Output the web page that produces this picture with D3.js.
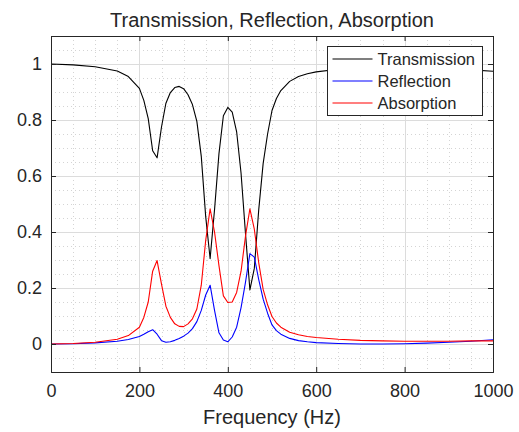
<!DOCTYPE html>
<html>
<head>
<meta charset="utf-8">
<script src="https://cdn.jsdelivr.net/npm/d3@7"></script>
<style>
  body { margin: 0; background: #fff; }
  text { font-family: "Liberation Sans", Arial, sans-serif; fill: #262626; }
</style>
</head>
<body>
<div id="chart"></div>
<script>
// frequency samples (Hz) and the three curves
var freq = [0, 50, 100, 150, 175, 200, 210, 220, 230, 240, 250, 260, 270, 280, 290, 300,
    310, 320, 330, 340, 350, 360, 370, 380, 390, 400, 410, 420, 430, 440, 450, 460,
    470, 480, 490, 500, 510, 520, 540, 560, 580, 600, 650, 700, 750, 800, 850, 900, 950, 1000];

var transmission = [1.0, 0.997, 0.99, 0.975, 0.955, 0.913, 0.87, 0.805, 0.69, 0.665, 0.775, 0.86,
    0.898, 0.916, 0.92, 0.912, 0.89, 0.855, 0.795, 0.67, 0.455, 0.305, 0.48, 0.68, 0.815, 0.845,
    0.828, 0.758, 0.61, 0.395, 0.193, 0.27, 0.48, 0.645, 0.75, 0.834, 0.877, 0.905, 0.938, 0.955,
    0.965, 0.972, 0.981, 0.987, 0.989, 0.989, 0.987, 0.984, 0.979, 0.974];

var reflection = [0, 0.001, 0.004, 0.01, 0.016, 0.027, 0.035, 0.044, 0.051, 0.035, 0.012, 0.006,
    0.008, 0.013, 0.02, 0.028, 0.039, 0.055, 0.08, 0.12, 0.175, 0.21, 0.12, 0.04, 0.014, 0.008,
    0.025, 0.06, 0.13, 0.22, 0.323, 0.31, 0.23, 0.16, 0.11, 0.068, 0.048, 0.035, 0.02, 0.012,
    0.008, 0.005, 0.002, 0.0, 0.0, 0.001, 0.003, 0.006, 0.01, 0.015];

var absorption = [0, 0.002, 0.006, 0.017, 0.03, 0.06, 0.095, 0.15, 0.26, 0.298, 0.214, 0.135,
    0.095, 0.072, 0.063, 0.062, 0.072, 0.09, 0.125, 0.21, 0.37, 0.483, 0.4, 0.28, 0.172, 0.148,
    0.15, 0.184, 0.26, 0.385, 0.483, 0.41, 0.29, 0.195, 0.14, 0.098, 0.075, 0.06, 0.042, 0.033,
    0.027, 0.023, 0.017, 0.013, 0.011, 0.01, 0.01, 0.01, 0.011, 0.011];

var xTicks = [0, 200, 400, 600, 800, 1000];
var yTicks = [0, 0.2, 0.4, 0.6, 0.8, 1];
var seriesNames = ["Transmission", "Reflection", "Absorption"];
var seriesColors = ["#000000", "#0000ff", "#ff0000"];

var W = 519, H = 432,
    margin = { top: 36, right: 26, bottom: 60, left: 51 },
    width = W - margin.left - margin.right,
    height = H - margin.top - margin.bottom;

var svg = d3.select("#chart").append("svg")
    .attr("width", W)
    .attr("height", H);

var g = svg.append("g").attr("transform", "translate(" + margin.left + "," + margin.top + ")");

var x = d3.scaleLinear().domain([0, 1000]).range([0, width]);
var y = d3.scaleLinear().domain([-0.1, 1.1]).range([height, 0]);

// minor grid (dotted)
var xMinor = d3.range(0, 1001, 50).filter(function (d) { return d % 200 !== 0; });
var yMinor = d3.range(-0.05, 1.1, 0.05).filter(function (d) {
    return Math.abs(Math.round(d * 5) - d * 5) > 1e-6;
});

g.append("g").selectAll("line").data(xMinor).enter().append("line")
    .attr("x1", function (d) { return Math.round(x(d)) + 0.5; })
    .attr("x2", function (d) { return Math.round(x(d)) + 0.5; })
    .attr("y1", 0).attr("y2", height)
    .attr("stroke", "#d4d4d4").attr("stroke-width", 1).attr("stroke-dasharray", "1,3");

g.append("g").selectAll("line").data(yMinor).enter().append("line")
    .attr("y1", function (d) { return Math.round(y(d)) + 0.5; })
    .attr("y2", function (d) { return Math.round(y(d)) + 0.5; })
    .attr("x1", 0).attr("x2", width)
    .attr("stroke", "#d4d4d4").attr("stroke-width", 1).attr("stroke-dasharray", "1,3");

// major grid
g.append("g").selectAll("line").data(xTicks).enter().append("line")
    .attr("x1", function (d) { return Math.round(x(d)) + 0.5; })
    .attr("x2", function (d) { return Math.round(x(d)) + 0.5; })
    .attr("y1", 0).attr("y2", height)
    .attr("stroke", "#dcdcdc").attr("stroke-width", 1);

g.append("g").selectAll("line").data(yTicks).enter().append("line")
    .attr("y1", function (d) { return Math.round(y(d)) + 0.5; })
    .attr("y2", function (d) { return Math.round(y(d)) + 0.5; })
    .attr("x1", 0).attr("x2", width)
    .attr("stroke", "#dcdcdc").attr("stroke-width", 1);

// curves
var allSeries = [transmission, reflection, absorption];

var line = d3.line()
    .x(function (d, i) { return x(freq[i]); })
    .y(function (d) { return y(d); });

allSeries.forEach(function (s, k) {
    g.append("path")
        .datum(s)
        .attr("fill", "none")
        .attr("stroke", seriesColors[k])
        .attr("stroke-width", 1.1)
        .attr("stroke-linejoin", "round")
        .attr("d", line);
});

// axes (ticks inside, MATLAB style)
var axisColor = "#262626";

var xAxis = g.append("g")
    .attr("transform", "translate(0," + height + ")")
    .call(d3.axisBottom(x).tickValues(xTicks).tickSize(-5).tickPadding(12).tickFormat(d3.format("d")));

var xTop = g.append("g")
    .call(d3.axisTop(x).tickValues(xTicks).tickSize(-5).tickFormat(""));

var yAxis = g.append("g")
    .call(d3.axisLeft(y).tickValues(yTicks).tickSize(-5).tickPadding(9).tickFormat(function (d) { return d3.format("")(+d.toFixed(1)); }));

var yRight = g.append("g")
    .attr("transform", "translate(" + width + ",0)")
    .call(d3.axisRight(y).tickValues(yTicks).tickSize(-5).tickFormat(""));

[xAxis, xTop, yAxis, yRight].forEach(function (a) {
    a.selectAll(".domain").attr("stroke", axisColor);
    a.selectAll(".tick line").attr("stroke", axisColor);
    a.selectAll("text")
        .attr("fill", "#262626")
        .style("font-size", "18px")
        .style("font-family", "'Liberation Sans', Arial, sans-serif");
});

// title and x label
svg.append("text")
    .attr("x", margin.left + width / 2)
    .attr("y", 27)
    .attr("text-anchor", "middle")
    .style("font-size", "20px")
    .text("Transmission, Reflection, Absorption");

svg.append("text")
    .attr("x", margin.left + width / 2)
    .attr("y", 424)
    .attr("text-anchor", "middle")
    .style("font-size", "20px")
    .text("Frequency (Hz)");

// legend
var legend = svg.append("g").attr("transform", "translate(327.5,46.5)");

legend.append("rect")
    .attr("width", 155)
    .attr("height", 69)
    .attr("fill", "#fff")
    .attr("stroke", axisColor)
    .attr("stroke-width", 1);

seriesNames.forEach(function (name, k) {
    var row = legend.append("g").attr("transform", "translate(0," + (12.5 + k * 22) + ")");
    row.append("line")
        .attr("x1", 5).attr("x2", 45)
        .attr("stroke", seriesColors[k])
        .attr("stroke-width", 1.1);
    row.append("text")
        .attr("x", 50)
        .attr("dy", "0.35em")
        .style("font-size", "16.5px")
        .attr("fill", "#000")
        .text(name);
});
</script>
</body>
</html>
